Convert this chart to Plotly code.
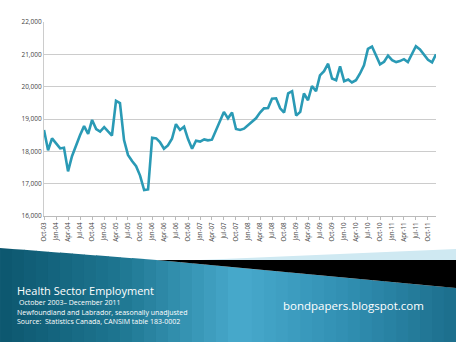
import pandas as pd
import plotly.graph_objects as go

# ---- data ----
start_month = "2003-10-01"
employment = [
    18660, 18030, 18400, 18250, 18090, 18110, 17380, 17850, 18200, 18500,
    18780, 18540, 18970, 18690, 18610, 18750, 18610, 18490, 19560, 19490,
    18350, 17890, 17700, 17540, 17250, 16800, 16820, 18420, 18400, 18290,
    18080, 18180, 18390, 18840, 18660, 18760, 18380, 18080, 18330, 18300,
    18370, 18340, 18360, 18630, 18920, 19220, 19020, 19200, 18690, 18660,
    18700, 18810, 18930, 19020, 19200, 19330, 19340, 19630, 19640, 19330,
    19200, 19790, 19860, 19110, 19220, 19790, 19580, 20020, 19860, 20350,
    20480, 20710, 20250, 20200, 20630, 20170, 20220, 20130, 20200, 20400,
    20660, 21170, 21240, 20950, 20690, 20770, 20960, 20820, 20760, 20790,
    20850, 20760, 21030, 21250, 21150, 20990, 20830, 20750, 21000,
]
months = pd.date_range(start_month, periods=len(employment), freq="MS")
month_labels = list(months.strftime("%b-%y"))
tick_dates = list(months[::3])
tick_labels = month_labels[::3]
y_ticks = [16000, 17000, 18000, 19000, 20000, 21000, 22000]

W, H = 456, 342
ML, MR, MT, MB = 44, 20, 22, 126
PW, PH = W - ML - MR, H - MT - MB


def px(x, y):
    return (x - ML) / PW, (H - MB - y) / PH


def path(points):
    s = ""
    for i, (x, y) in enumerate(points):
        xp, yp = px(x, y)
        s += ("M" if i == 0 else "L") + f"{xp:.4f},{yp:.4f} "
    return s + "Z"


fig = go.Figure()
fig.add_trace(go.Scatter(
    x=months, y=employment, mode="lines",
    line=dict(color="#2a9ab5", width=2.6),
    hoverinfo="skip", showlegend=False,
))

shapes = []
# teal gradient band (drawn as vertical strips, clipped to the slanted top edge)
stops = [(0, (12, 86, 110)), (120, (30, 118, 145)), (240, (72, 170, 205)),
         (340, (50, 145, 180)), (456, (28, 110, 140))]


def col_at(x):
    for (x0, c0), (x1, c1) in zip(stops[:-1], stops[1:]):
        if x0 <= x <= x1:
            t = (x - x0) / (x1 - x0)
            return "rgb(%d,%d,%d)" % tuple(round(a + (b - a) * t) for a, b in zip(c0, c1))
    return "rgb(28,110,140)"


def top_edge(x):
    if x <= 157:
        return 248 + (260 - 248) * x / 157
    return 260 + (288 - 260) * (x - 157) / (456 - 157)


n = 38
for k in range(n):
    x0 = W * k / n
    x1 = W * (k + 1) / n + 0.6
    shapes.append(dict(type="path", xref="paper", yref="paper", layer="below",
                       path=path([(x0, top_edge(x0)), (x1, top_edge(x1)), (x1, H + 2), (x0, H + 2)]),
                       fillcolor=col_at((x0 + x1) / 2), line=dict(width=0)))
# light highlight strip above the black wedge
shapes.append(dict(type="path", xref="paper", yref="paper", layer="below",
                   path=path([(200, 260), (456, 249), (456, 260)]),
                   fillcolor="#cfe9f2", line=dict(width=0)))
# black wedge
shapes.append(dict(type="path", xref="paper", yref="paper", layer="below",
                   path=path([(157, 260), (456, 260), (456, 288)]),
                   fillcolor="#000000", line=dict(width=0)))

annotations = []
def txt(x, y, s, size, anchor="left"):
    xp, yp = px(x, y)
    annotations.append(dict(xref="paper", yref="paper", x=xp, y=yp, text=s,
                            showarrow=False, xanchor=anchor, yanchor="middle",
                            borderpad=0,
                            font=dict(family="Open Sans, sans-serif", size=size, color="white")))

txt(16, 290.5, "Health Sector Employment", 11)
txt(18, 302.5, "October 2003– December 2011", 7)
txt(16, 312, "Newfoundland and Labrador, seasonally unadjusted", 7)
txt(16, 321.5, "Source:  Statistics Canada, CANSIM table 183-0002", 7)
txt(282, 305, "bondpapers.blogspot.com", 11.5)

fig.update_layout(
    width=W, height=H,
    margin=dict(l=ML, r=MR, t=MT, b=MB),
    paper_bgcolor="white", plot_bgcolor="white",
    shapes=shapes, annotations=annotations,
    xaxis=dict(
        range=[months[0], months[-1]],
        tickvals=tick_dates, ticktext=tick_labels, tickangle=-90,
        tickfont=dict(family="Open Sans, sans-serif", size=6.2, color="#444444"),
        showgrid=False, showline=True, linecolor="#bbbbbb", linewidth=1,
        ticks="outside", ticklen=3, tickcolor="#bbbbbb",
        zeroline=False,
    ),
    yaxis=dict(
        range=[16000, 22000], tickvals=y_ticks, tickformat=",",
        tickfont=dict(family="Open Sans, sans-serif", size=6.5, color="#444444"),
        showgrid=True, gridcolor="#cccccc", gridwidth=1,
        showline=True, linecolor="#cccccc", linewidth=1,
        ticks="", zeroline=False,
    ),
)

fig.write_html("out.html")
